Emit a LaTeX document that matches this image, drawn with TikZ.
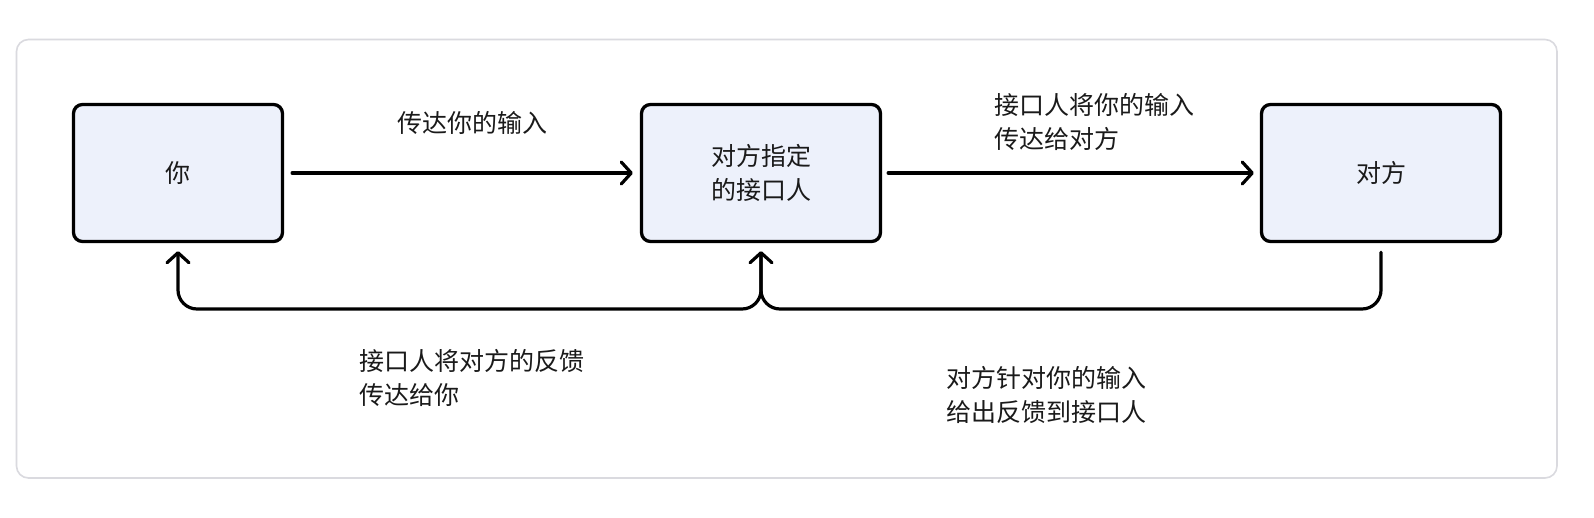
\documentclass[tikz,border=0pt]{standalone}
\usepackage{fontspec}
\newfontfamily\cjk{Noto Sans CJK SC}
\usetikzlibrary{arrows.meta}
\definecolor{boxfill}{HTML}{EDF1FB}
\definecolor{framegray}{HTML}{DADADF}
\definecolor{txt}{HTML}{1A1A1A}
\begin{document}
\begin{tikzpicture}[x=1pt,y=-1pt,
  every node/.style={font=\cjk\fontsize{25}{33.5}\selectfont, text=txt},
  box/.style={draw=black, fill=boxfill, line width=3.3pt, rounded corners=9pt,
    minimum width=239pt, minimum height=137pt, inner sep=0pt, align=center},
  lbl/.style={inner sep=0pt, align=left, anchor=west},
  conn/.style={draw=black, line width=3.2pt, line cap=round, line join=round,
    -{Straight Barb[length=10pt,width=22pt,round]}}]
\useasboundingbox (0,0) rectangle (1594,518);
\fill[white] (0,0) rectangle (1594,518);
\draw[framegray, line width=1.6pt, rounded corners=12pt] (16.5,39.5) rectangle (1557,478);
\node[box, minimum width=209pt] (b1) at (178,173) {你};
\node[box] (b2) at (761,173) {对方指定\\的接口人};
\node[box] (b3) at (1381,173) {对方};
\coordinate (j) at (761,309);
\draw[conn] ([xshift=8pt]b1.east) -- ([xshift=-7pt]b2.west);
\draw[conn] ([xshift=6pt]b2.east) -- ([xshift=-6pt]b3.west);
\draw[conn, rounded corners=19pt] ([yshift=-9pt]b3.south) |- (j) -- ([yshift=-8pt]b2.south);
\draw[conn, rounded corners=19pt] ([yshift=-10pt]b2.south) -- (j) -| ([yshift=-8pt]b1.south);
\node[lbl] (l1) at (397,123) {传达你的输入};
\node[lbl] (l2) at (994,122) {接口人将你的输入\\传达给对方};
\node[lbl] (l3) at (359,378) {接口人将对方的反馈\\传达给你};
\node[lbl] (l4) at (946,395) {对方针对你的输入\\给出反馈到接口人};
\end{tikzpicture}
\end{document}
